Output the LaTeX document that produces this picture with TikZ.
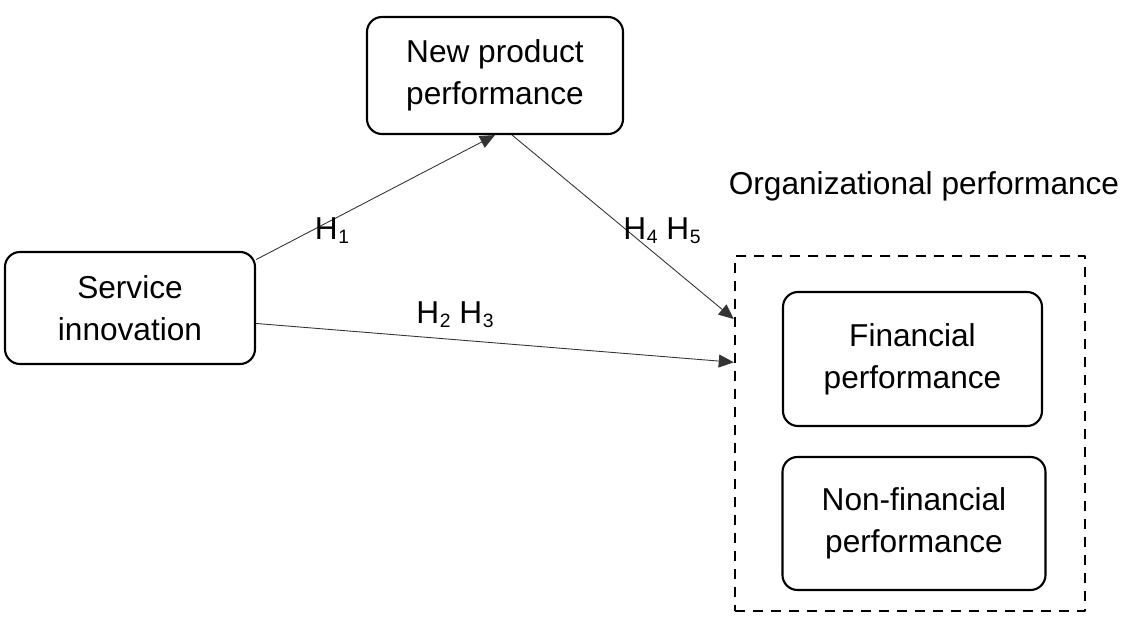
\documentclass[tikz,border=0pt]{standalone}
\usepackage{fontspec}
\setmainfont{Liberation Sans}
\usetikzlibrary{arrows.meta}
\newcommand{\hsub}[1]{H\kern0.3pt\raisebox{-0.25ex}{\fontsize{11}{11}\selectfont #1}}
\begin{document}
\begin{tikzpicture}[x=0.2mm, y=-0.2mm, box/.style={draw, rounded corners=3mm, line width=1.2pt, align=center, inner sep=0pt}, link/.style={-{Triangle[length=3mm,width=2.6mm]}, draw=black!80, line width=0.5pt}, lbl/.style={inner sep=0pt}, font=\fontsize{18}{24}\selectfont, line join = round]
      \useasboundingbox (0,0) rectangle (1125,619);

      \node [box, minimum width=51.2mm, minimum height=23.4mm] (newp) at (495,75.5) {New product\\performance};
      \node [box, minimum width=50mm, minimum height=22.4mm] (serv) at (130,308) {Service\\innovation};
      \node [draw, dash pattern=on 2mm off 1.6mm, line width=1.4pt, minimum width=70mm, minimum height=71mm, inner sep=0pt] (org) at (910,433.5) {};
      \node [box, minimum width=51.8mm, minimum height=26.8mm] (fin) at (912.5,359) {Financial\\performance};
      \node [box, minimum width=52.6mm, minimum height=26.6mm] (nonfin) at (914,523.5) {Non-financial\\performance};
      \node [lbl] (orglabel) at (924,186) {Organizational performance};

      \draw [link] (serv.21) -- (newp.south);
      \draw [link] (newp.-74) -- (org.147);
      \draw [link] (serv.-7) -- (org.158);

      \node [lbl] (h1) at (332,231) {\hsub{1}};
      \node [lbl] (h23) at (455,315) {\hsub{2} \hsub{3}};
      \node [lbl] (h45) at (662,231) {\hsub{4} \hsub{5}};
    \end{tikzpicture}
\end{document}
